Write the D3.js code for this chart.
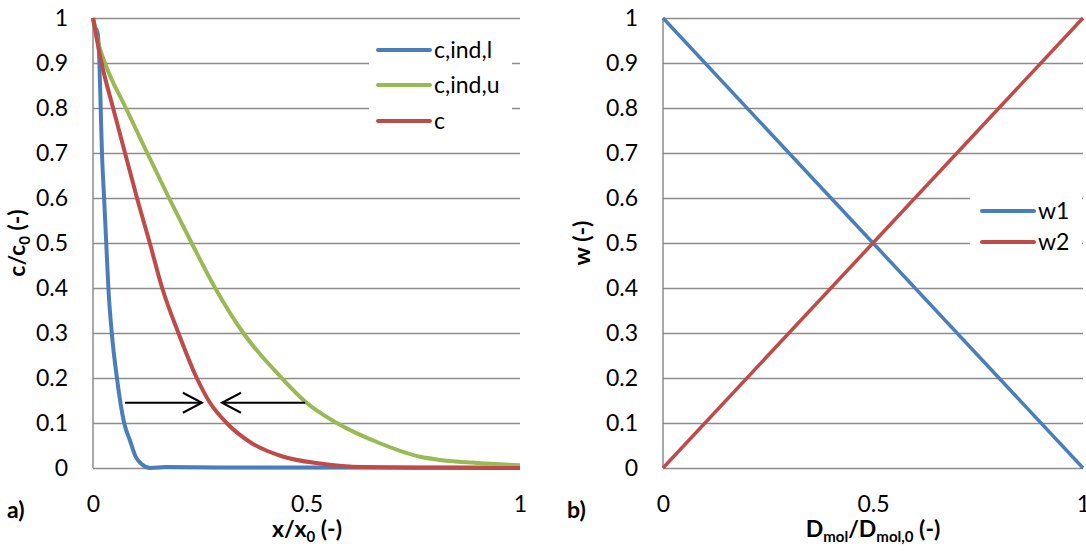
<!DOCTYPE html>
<html>
<head>
<meta charset="utf-8">
<script src="https://cdn.jsdelivr.net/npm/d3@7"></script>
<style>
  body { margin: 0; background: #fff; }
  text { font-family: Lato, sans-serif; fill: #000; }
</style>
</head>
<body>
<script>
'use strict';

const width = 1086;
const height = 554;
const fontSize = 23;

// panel a) data
const xA_indL = [0, 0.005, 0.011, 0.015, 0.018, 0.021, 0.026, 0.031, 0.036, 0.044, 0.056, 0.073, 0.087, 0.1, 0.115, 0.134, 0.17, 0.3, 1];
const yA_indL = [1, 0.98, 0.966, 0.9, 0.8, 0.7, 0.6, 0.5, 0.4, 0.3, 0.2, 0.1, 0.06, 0.025, 0.008, 0, 0.002, 0.001, 0.001];
const xA_indU = [0, 0.008, 0.028, 0.077, 0.127, 0.178, 0.231, 0.286, 0.352, 0.442, 0.5, 0.571, 0.672, 0.766, 0.813, 0.9, 1];
const yA_indU = [1, 0.96, 0.9, 0.8, 0.7, 0.6, 0.5, 0.4, 0.3, 0.2, 0.145, 0.1, 0.055, 0.025, 0.018, 0.011, 0.006];
const xA_c = [0, 0.02, 0.047, 0.075, 0.103, 0.133, 0.162, 0.2, 0.243, 0.274, 0.313, 0.372, 0.446, 0.532, 0.63, 0.8, 1];
const yA_c = [1, 0.9, 0.8, 0.7, 0.6, 0.5, 0.4, 0.3, 0.2, 0.145, 0.1, 0.055, 0.025, 0.01, 0.002, 0.0005, 0];
const seriesA = ['c,ind,l', 'c,ind,u', 'c'];
const arrowsA = [[0.075, 0.255, 0.145], [0.497, 0.302, 0.145]];

// panel b) data
const xB = [0, 0.5, 1];
const yB_w1 = [1, 0.5, 0];
const yB_w2 = [0, 0.5, 1];
const seriesB = ['w1', 'w2'];

const yTicks = [0, 0.1, 0.2, 0.3, 0.4, 0.5, 0.6, 0.7, 0.8, 0.9, 1];
const xTicks = [0, 0.5, 1];

const colors = { blue: '#4a7ebb', red: '#be4b48', green: '#98b954' };
const gridColor = '#8c8c8c';

const svg = d3.select('body')
  .append('svg')
  .attr('width', width)
  .attr('height', height);

const fmt = d3.format('~g');

function drawPanel(xRange) {
  const xScale = d3.scaleLinear().domain([0, 1]).range(xRange);
  const yScale = d3.scaleLinear().domain([0, 1]).range([468, 18]);
  const g = svg.append('g');

  // gridlines + y labels
  const yAxis = d3.axisLeft(yScale)
    .tickValues(yTicks)
    .tickSize(-(xRange[1] - xRange[0]))
    .tickPadding(25)
    .tickFormat(fmt);
  const ya = g.append('g')
    .attr('transform', `translate(${xRange[0]},0)`)
    .call(yAxis);
  ya.select('.domain').remove();
  ya.selectAll('line').attr('stroke', gridColor).attr('stroke-width', 1.5);
  ya.selectAll('text').attr('font-size', fontSize).attr('font-family', 'Lato, sans-serif');

  const xAxis = d3.axisBottom(xScale)
    .tickValues(xTicks)
    .tickSize(0)
    .tickPadding(28)
    .tickFormat(fmt);
  const xa = g.append('g')
    .attr('transform', 'translate(0,468)')
    .call(xAxis);
  xa.select('.domain').remove();
  xa.selectAll('text').attr('font-size', fontSize).attr('font-family', 'Lato, sans-serif');

  // left axis line
  g.append('line')
    .attr('x1', xRange[0]).attr('x2', xRange[0])
    .attr('y1', yScale(0)).attr('y2', yScale(1))
    .attr('stroke', gridColor).attr('stroke-width', 1.5);

  return { g, xScale, yScale };
}

function drawLegend(g, box, items) {
  g.append('rect')
    .attr('x', box.x).attr('y', box.y)
    .attr('width', box.w).attr('height', box.h)
    .attr('fill', '#fff');
  items.forEach((it, i) => {
    const y = box.rowY[i];
    g.append('line')
      .attr('x1', box.lx1).attr('x2', box.lx2)
      .attr('y1', y).attr('y2', y)
      .attr('stroke', it.color).attr('stroke-width', 4)
      .attr('stroke-linecap', 'round');
    g.append('text')
      .attr('x', box.tx).attr('y', y)
      .attr('dy', '0.35em')
      .attr('font-size', fontSize)
      .text(it.name);
  });
}

// ---------- panel a ----------
const A = drawPanel([93, 520]);
const lineA = d3.line()
  .x((d) => A.xScale(d[0]))
  .y((d) => A.yScale(d[1]))
  .curve(d3.curveMonotoneX);

const dataA = [
  { name: seriesA[0], color: colors.blue, pts: d3.zip(xA_indL, yA_indL) },
  { name: seriesA[1], color: colors.green, pts: d3.zip(xA_indU, yA_indU) },
  { name: seriesA[2], color: colors.red, pts: d3.zip(xA_c, yA_c) }
];

A.g.selectAll('path.series')
  .data(dataA)
  .enter()
  .append('path')
  .attr('class', 'series')
  .attr('d', (d) => lineA(d.pts))
  .attr('fill', 'none')
  .attr('stroke', (d) => d.color)
  .attr('stroke-width', 4)
  .attr('stroke-linejoin', 'round');

// arrows
arrowsA.forEach(([x0, x1, yv]) => {
  const px0 = A.xScale(x0), px1 = A.xScale(x1), py = A.yScale(yv);
  const dir = px1 > px0 ? 1 : -1;
  A.g.append('line')
    .attr('x1', px0).attr('x2', px1)
    .attr('y1', py).attr('y2', py)
    .attr('stroke', '#000').attr('stroke-width', 2);
  A.g.append('path')
    .attr('d', `M${px1 - dir * 19},${py - 10}L${px1},${py}L${px1 - dir * 19},${py + 10}`)
    .attr('fill', 'none')
    .attr('stroke', '#000').attr('stroke-width', 2);
});

drawLegend(A.g, { x: 369, y: 34, w: 143, h: 104, lx1: 378, lx2: 430, tx: 434, rowY: [50, 85, 121] },
  dataA.map((d) => ({ name: d.name, color: d.color })));

// titles a
svg.append('text')
  .attr('x', 307).attr('y', 537)
  .attr('text-anchor', 'middle')
  .attr('font-size', fontSize).attr('font-weight', 'bold')
  .html('x/x<tspan font-size="15" dy="5">0</tspan><tspan dy="-5"> (-)</tspan>');

svg.append('text')
  .attr('transform', 'translate(25,243) rotate(-90)')
  .attr('text-anchor', 'middle')
  .attr('font-size', fontSize).attr('font-weight', 'bold')
  .html('c/c<tspan font-size="15" dy="5">0</tspan><tspan dy="-5"> (-)</tspan>');

svg.append('text')
  .attr('x', 7).attr('y', 518)
  .attr('font-size', fontSize).attr('font-weight', 'bold')
  .text('a)');

// ---------- panel b ----------
const B = drawPanel([663, 1083]);
const lineB = d3.line()
  .x((d) => B.xScale(d[0]))
  .y((d) => B.yScale(d[1]));

const dataB = [
  { name: seriesB[0], color: colors.blue, pts: d3.zip(xB, yB_w1) },
  { name: seriesB[1], color: colors.red, pts: d3.zip(xB, yB_w2) }
];

B.g.selectAll('path.series')
  .data(dataB)
  .enter()
  .append('path')
  .attr('class', 'series')
  .attr('d', (d) => lineB(d.pts))
  .attr('fill', 'none')
  .attr('stroke', (d) => d.color)
  .attr('stroke-width', 3.5);

drawLegend(B.g, { x: 970, y: 190, w: 112, h: 72, lx1: 982, lx2: 1034, tx: 1038, rowY: [211, 242] },
  dataB.map((d) => ({ name: d.name, color: d.color })));

svg.append('text')
  .attr('x', 873).attr('y', 537)
  .attr('text-anchor', 'middle')
  .attr('font-size', fontSize).attr('font-weight', 'bold')
  .html('D<tspan font-size="15" dy="5">mol</tspan><tspan dy="-5">/D</tspan><tspan font-size="15" dy="5">mol,0</tspan><tspan dy="-5"> (-)</tspan>');

svg.append('text')
  .attr('transform', 'translate(590,243) rotate(-90)')
  .attr('text-anchor', 'middle')
  .attr('font-size', fontSize).attr('font-weight', 'bold')
  .text('w (-)');

svg.append('text')
  .attr('x', 567).attr('y', 518)
  .attr('font-size', fontSize).attr('font-weight', 'bold')
  .text('b)');
</script>
</body>
</html>
